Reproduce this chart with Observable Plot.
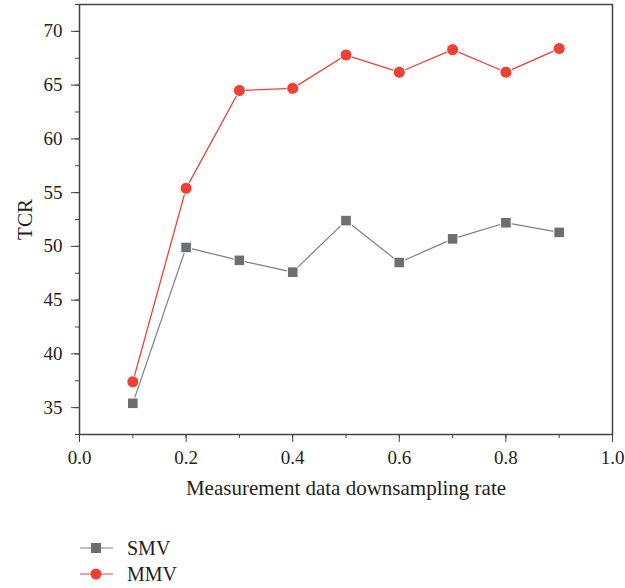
<!DOCTYPE html>
<html><head><meta charset="utf-8">
<script src="https://cdn.jsdelivr.net/npm/d3@7"></script>
<script src="https://cdn.jsdelivr.net/npm/@observablehq/plot@0.6"></script>
<style>
body{margin:0;background:#fff;font-family:"Liberation Serif",serif;}
#wrap{position:relative;width:625px;height:588px;}
#legend{position:absolute;left:80px;top:535px;font-size:20px;color:#231f20;}
.row{display:flex;align-items:center;height:26px;}
.row span{margin-left:14px;}
</style></head><body>
<div id="wrap"><div id="chart"></div><div id="legend"></div></div>
<script>
const rates = [0.1, 0.2, 0.3, 0.4, 0.5, 0.6, 0.7, 0.8, 0.9];
const smv = [35.4, 49.9, 48.7, 47.6, 52.4, 48.5, 50.7, 52.2, 51.3];
const mmv = [37.4, 55.4, 64.5, 64.7, 67.8, 66.2, 68.3, 66.2, 68.4];
const series = ["SMV", "MMV"];
const yTicks = [35, 40, 45, 50, 55, 60, 65, 70];
const xTicks = [0.0, 0.2, 0.4, 0.6, 0.8, 1.0];

const gray = "#6d6e72", grayLine = "#7f7f7f", red = "#ee4035";
const data = [
  ...rates.map((x, i) => ({x, y: smv[i], s: "SMV"})),
  ...rates.map((x, i) => ({x, y: mmv[i], s: "MMV"}))
];
const sm = data.filter(d => d.s === "SMV"), mm = data.filter(d => d.s === "MMV");
const yMinor = d3.range(32.5, 72.6, 2.5);
const xMinor = d3.range(0, 1.01, 0.1);

const chart = Plot.plot({
  width: 625, height: 510,
  marginLeft: 79, marginRight: 13, marginTop: 4, marginBottom: 76,
  style: {fontFamily: "Liberation Serif, serif", fontSize: "19px", color: "#231f20", background: "#fff"},
  x: {domain: [0, 1]},
  y: {domain: [32.5, 72.5]},
  marks: [
    Plot.axisY({ticks: yMinor, tickSize: 4, tickFormat: () => "", label: null, stroke: "#444"}),
    Plot.axisY({ticks: yTicks, tickSize: 8, tickPadding: 9, tickFormat: d => d, stroke: "#444", fontSize: 19,
      label: "TCR", labelAnchor: "center", labelArrow: "none", labelOffset: 62}),
    Plot.axisX({ticks: xMinor, tickSize: 4, tickFormat: () => "", label: null, stroke: "#444"}),
    Plot.axisX({ticks: xTicks, tickSize: 8, tickPadding: 8, tickFormat: d3.format(".1f"), stroke: "#444", fontSize: 19,
      label: "Measurement data downsampling rate", labelAnchor: "center", labelArrow: "none", labelOffset: 60}),
    Plot.frame({stroke: "#444", strokeWidth: 1.5}),
    Plot.line(sm, {x: "x", y: "y", stroke: grayLine, strokeWidth: 1.2}),
    Plot.line(mm, {x: "x", y: "y", stroke: red, strokeWidth: 1.3}),
    Plot.dot(sm, {x: "x", y: "y", symbol: "square", r: 6, fill: gray, stroke: "#fff", strokeWidth: 1}),
    Plot.dot(mm, {x: "x", y: "y", symbol: "circle", r: 6, fill: red, stroke: "#fff", strokeWidth: 1})
  ]
});
document.getElementById("chart").appendChild(chart);
chart.querySelectorAll("g[aria-label='y-axis label'] text, g[aria-label='x-axis label'] text").forEach(t => t.setAttribute("font-size", "21"));

const leg = document.getElementById("legend");
const colors = {SMV: [gray, grayLine], MMV: [red, red]};
series.forEach(s => {
  const row = document.createElement("div");
  row.className = "row";
  const [fc, lc] = colors[s];
  const mk = s === "SMV"
    ? `<rect x="11" y="6" width="10" height="10" fill="${fc}"/>`
    : `<circle cx="16" cy="11" r="5.5" fill="${fc}"/>`;
  row.innerHTML = `<svg width="33" height="22"><line x1="0" x2="33" y1="11" y2="11" stroke="${lc}" stroke-width="1.2"/>${mk}</svg><span>${s}</span>`;
  leg.appendChild(row);
});
</script>
</body></html>
